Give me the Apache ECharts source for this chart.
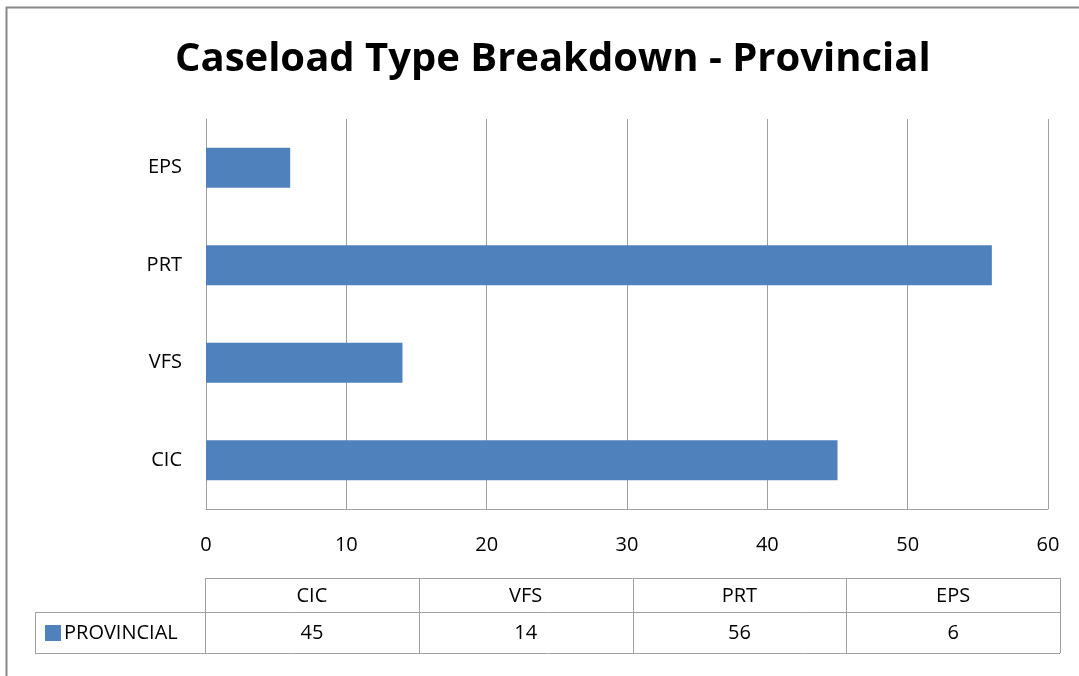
<!doctype html>
<html>
<head>
<meta charset="utf-8">
<title>Caseload Type Breakdown - Provincial</title>
<script src="https://cdn.jsdelivr.net/npm/echarts@6/dist/echarts.min.js"></script>
<style>
  html, body { margin: 0; padding: 0; background: #fff; }
  #chart { width: 1079px; height: 676px; }
</style>
</head>
<body>
<div id="chart"></div>
<script>
// data
var categories = ['CIC', 'VFS', 'PRT', 'EPS'];
var provincial = [45, 14, 56, 6];
var seriesName = 'PROVINCIAL';
var xTicks = [0, 10, 20, 30, 40, 50, 60];

var font = '"Open Sans", "Noto Sans", sans-serif';
var barColor = '#4F81BD';
var lineColor = '#A0A0A0';

// data table under the chart (graphic elements built from the arrays)
var tbl = { left: 205, right: 1060, top: 578, mid: 612, bottom: 653, legendLeft: 35 };
var colW = (tbl.right - tbl.left) / categories.length;
var tableEls = [];
function hline(x1, x2, y) {
  tableEls.push({ type: 'line', shape: { x1: x1, y1: y, x2: x2, y2: y }, style: { stroke: lineColor, lineWidth: 1 } });
}
function vline(x, y1, y2) {
  tableEls.push({ type: 'line', shape: { x1: x, y1: y1, x2: x, y2: y2 }, style: { stroke: lineColor, lineWidth: 1 } });
}
hline(tbl.left, tbl.right, tbl.top + 0.5);
hline(tbl.legendLeft, tbl.right, tbl.mid + 0.5);
hline(tbl.legendLeft, tbl.right, tbl.bottom + 0.5);
vline(tbl.legendLeft + 0.5, tbl.mid, tbl.bottom);
for (var i = 0; i <= categories.length; i++) {
  vline(Math.round(tbl.left + i * colW) + 0.5, tbl.top, tbl.bottom);
}
categories.forEach(function (c, i) {
  var cx = tbl.left + (i + 0.5) * colW;
  tableEls.push({ type: 'text', x: cx, y: (tbl.top + tbl.mid) / 2 + 1,
    style: { text: c, fill: '#000', font: '20px ' + font, align: 'center', verticalAlign: 'middle' } });
  tableEls.push({ type: 'text', x: cx, y: (tbl.mid + tbl.bottom) / 2 + 1,
    style: { text: String(provincial[i]), fill: '#000', font: '20px ' + font, align: 'center', verticalAlign: 'middle' } });
});
tableEls.push({ type: 'rect', shape: { x: 45, y: 625, width: 16, height: 16 }, style: { fill: barColor } });
tableEls.push({ type: 'text', x: 64, y: (tbl.mid + tbl.bottom) / 2 + 1,
  style: { text: seriesName, fill: '#000', font: '20px ' + font, align: 'left', verticalAlign: 'middle' } });
// outer chart border
tableEls.push({ type: 'polyline', shape: { points: [[6.5, 676], [6.5, 7.5], [1079, 7.5]] },
  style: { stroke: '#888', lineWidth: 2, fill: null } });

var chart = echarts.init(document.getElementById('chart'));
chart.setOption({
  animation: false,
  backgroundColor: '#fff',
  title: {
    text: 'Caseload Type Breakdown - Provincial',
    left: 170,
    top: 35,
    textStyle: { fontFamily: font, fontWeight: 'bold', fontSize: 40, color: '#000' }
  },
  grid: { left: 206, right: 31, top: 119, bottom: 167 },
  xAxis: {
    type: 'value',
    min: xTicks[0],
    max: xTicks[xTicks.length - 1],
    interval: xTicks[1] - xTicks[0],
    axisLine: { show: true, lineStyle: { color: lineColor } },
    axisTick: { show: false },
    axisLabel: { color: '#000', fontFamily: font, fontSize: 20, margin: 26 },
    splitLine: { show: true, lineStyle: { color: lineColor } }
  },
  yAxis: {
    type: 'category',
    data: categories,
    axisLine: { show: true, lineStyle: { color: lineColor } },
    axisTick: { show: false },
    axisLabel: { color: '#000', fontFamily: font, fontSize: 20, margin: 24 },
    splitLine: { show: false }
  },
  series: [{
    name: seriesName,
    type: 'bar',
    data: provincial,
    barCategoryGap: '59%',
    itemStyle: { color: barColor }
  }],
  graphic: tableEls
});
</script>
</body>
</html>
